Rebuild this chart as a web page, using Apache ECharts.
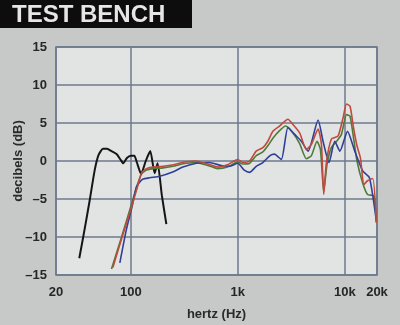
<!DOCTYPE html>
<html><head><meta charset="utf-8">
<script src="https://cdn.jsdelivr.net/npm/echarts@6/dist/echarts.min.js"></script>
<style>html,body{margin:0;padding:0;background:#c6c9c7;}#c{width:400px;height:325px;}</style>
</head><body><div id="c"></div>
<script>
const title = "TEST BENCH";
const xName = "hertz (Hz)";
const yName = "decibels (dB)";
const xTickLabels = {20: "20", 100: "100", 1000: "1k", 10000: "10k", 20000: "20k"};

const blackFreq = [33, 37, 41.5, 46, 50, 55, 60, 66, 74, 80, 85, 92, 100, 108, 114, 125, 138, 152, 167, 178, 195, 215];
const blackDb   = [-12.8, -9, -5, -1.2, 0.8, 1.6, 1.6, 1.3, 0.9, 0.2, -0.3, 0.4, 0.7, 0.7, -0.2, -1.7, 0, 1.3, -1.6, -0.3, -4.5, -8.3];

const redFreq = [68, 83, 102, 115, 126, 140, 160, 200, 250, 300, 400, 500, 650, 800, 1000, 1114, 1288, 1487, 1715, 1910, 2127, 2456, 2944, 3280, 3786, 4375, 4875, 5630, 6050, 6355, 6730, 7500, 8660, 9640, 10380, 11200, 12060, 13000, 14000, 15100, 16300, 18250, 19700];
const redDb   = [-14, -10, -6, -3.5, -1.6, -1.0, -0.8, -0.7, -0.5, -0.2, 0, -0.3, -0.8, -0.5, 0.2, -0.2, 0, 1.3, 1.75, 2.6, 3.9, 4.6, 5.5, 4.8, 3.7, 1.5, 2.2, 4.2, 2.2, -4.4, -0.2, 2.9, 3.3, 5.7, 7.5, 7.2, 4.4, 2.0, 0.4, -3.1, -2.6, -2.3, -8.1];

const greenFreq = [66, 82, 100, 113, 125, 140, 160, 200, 250, 300, 400, 500, 650, 800, 1000, 1114, 1288, 1487, 1715, 1910, 2127, 2456, 2800, 3280, 3786, 4375, 4875, 5500, 5920, 6355, 6830, 7500, 8400, 9300, 10380, 11200, 12200, 13000, 14700, 16300, 18700, 19700];
const greenDb   = [-14.2, -10, -6, -3.5, -1.8, -1.2, -1.0, -0.9, -0.7, -0.4, -0.2, -0.5, -1.0, -0.8, -0.1, -0.4, -0.3, 0.7, 1.2, 2.0, 3.0, 4.0, 4.6, 3.7, 2.3, 0.3, 0.7, 2.6, 1.5, -4.0, -0.4, 1.8, 2.6, 3.5, 6.1, 5.9, 2.6, 0, -2.9, -4.4, -4.6, -8.1];

const blueFreq = [79, 91, 102, 113, 121, 129, 150, 186, 250, 307, 410, 540, 700, 836, 1000, 1150, 1288, 1487, 1715, 2000, 2200, 2550, 2944, 3400, 3925, 4540, 5630, 6260, 7120, 8060, 9000, 10600, 12400, 14700, 17000, 19700];
const blueDb   = [-13.4, -9, -6.2, -3.4, -2.8, -2.4, -2.2, -2.0, -1.4, -0.8, -0.3, -0.2, -0.6, -0.7, -0.3, -1.2, -1.5, -0.7, -0.2, 0.7, 0.9, 0.2, 4.4, 3.5, 2.6, 1.3, 5.4, 2.6, -0.2, 2.6, 1.3, 3.9, 1.3, -1.3, -2.2, -7.8];

function pairs(f, d) { return f.map((v, i) => [v, d[i]]); }

const chart = echarts.init(document.getElementById('c'), null, {renderer: 'canvas'});
const tickFont = {color: '#262626', fontFamily: 'Liberation Sans', fontWeight: 'bold', fontSize: 13};
function line(name, color, f, d, w) {
  return {name, type: 'line', data: pairs(f, d), showSymbol: false, smooth: 0.2,
    lineStyle: {color, width: w}, z: 3, animation: false};
}
chart.setOption({
  animation: false,
  backgroundColor: '#c6c9c7',
  graphic: [
    {type: 'rect', left: 0, top: 0, shape: {width: 192, height: 28}, style: {fill: '#0d0d0d'}},
    {type: 'text', left: 12, top: 3, style: {text: title, fill: '#e6e6e6', font: 'bold 24px "Liberation Sans"'}}
  ],
  grid: {left: 56, right: 23, top: 47, bottom: 50, containLabel: false, outerBoundsMode: 'none',
    show: true, backgroundColor: '#e2e4e3', borderColor: '#6c7a8c', borderWidth: 1.5},
  xAxis: {
    type: 'log', logBase: 10, min: 20, max: 20000,
    name: xName, nameLocation: 'middle', nameGap: 33,
    nameTextStyle: {color: '#2a2a2a', fontFamily: 'Liberation Sans', fontSize: 13, fontWeight: 'bold'},
    axisLine: {show: false}, axisTick: {show: false},
    axisLabel: Object.assign({margin: 11, showMinLabel: true, showMaxLabel: true,
      formatter: v => { const k = Math.round(v); return xTickLabels[k] !== undefined ? xTickLabels[k] : ''; }}, tickFont),
    splitLine: {show: true, lineStyle: {color: '#6c7a8c', width: 1.5}},
    minorSplitLine: {show: false}
  },
  yAxis: {
    type: 'value', min: -15, max: 15, interval: 5,
    name: yName, nameLocation: 'middle', nameGap: 31, nameRotate: 90, nameMoveOverlap: false,
    nameTextStyle: {color: '#2a2a2a', fontFamily: 'Liberation Sans', fontSize: 13, fontWeight: 'bold'},
    axisLine: {show: false}, axisTick: {show: false},
    axisLabel: Object.assign({margin: 9, formatter: v => v < 0 ? '\u2013' + Math.abs(v) : String(v)}, tickFont),
    splitLine: {show: true, lineStyle: {color: '#6c7a8c', width: 1.5}}
  },
  series: [
    line('black', '#151515', blackFreq, blackDb, 2),
    line('green', '#4f7a3a', greenFreq, greenDb, 1.6),
    line('blue', '#2f3f98', blueFreq, blueDb, 1.6),
    line('red', '#c2493d', redFreq, redDb, 1.6)
  ]
});
</script></body></html>
